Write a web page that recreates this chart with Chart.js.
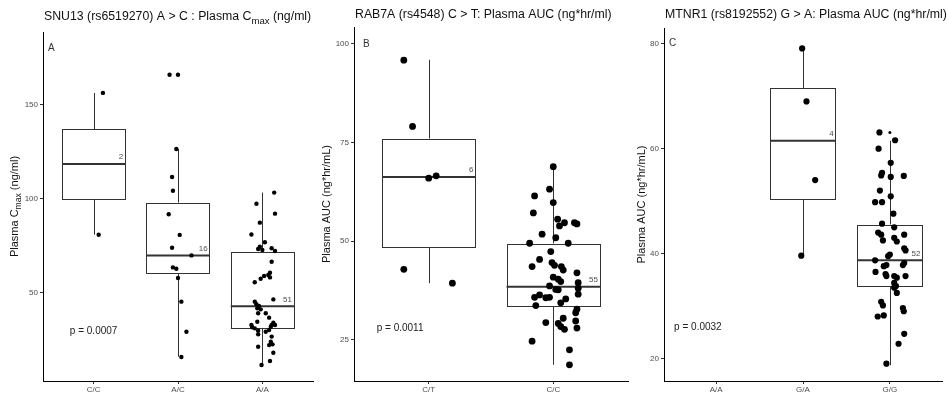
<!DOCTYPE html>
<html>
<head>
<meta charset="utf-8">
<script src="https://cdn.jsdelivr.net/npm/chart.js@4.4.0/dist/chart.umd.min.js"></script>
<style>
  html, body { margin: 0; padding: 0; background: #fff; }
  #wrap { position: relative; width: 949px; height: 393px; }
  .panel { position: absolute; top: 0; height: 393px; }
  canvas { display: block; }
</style>
</head>
<body>
<div id="wrap">
  <div class="panel" style="left:0;width:316px"><canvas id="snuChart" width="316" height="393"></canvas></div>
  <div class="panel" style="left:316px;width:316px"><canvas id="rabChart" width="316" height="393"></canvas></div>
  <div class="panel" style="left:632px;width:317px"><canvas id="mtnChart" width="317" height="393"></canvas></div>
</div>
<script>
// ---- Panel A: SNU13 (rs6519270), plasma Cmax ----
const snuGroups = ['C/C', 'A/C', 'A/A'];
const snuN = [2, 16, 51];
const snuLow = [81, 16.1, 11.7];
const snuQ1 = [100, 60.6, 31.5];
const snuMedian = [118.6, 70, 42.9];
const snuQ3 = [137.2, 98, 72];
const snuHigh = [156.4, 126.6, 103.4];
const snuTicks = [50, 100, 150];
// subjects: jittered x (group index) and value
const snuCCx = [1.11, 1.06];
const snuCCy = [156.4, 81.0];
const snuACx = [1.90, 2.00, 1.98, 1.93, 1.94, 1.89, 2.02, 1.93, 2.16, 1.94, 1.98, 2.00, 2.04, 2.10, 2.04];
const snuACy = [166.1, 166.1, 126.6, 111.7, 104.4, 91.9, 80.9, 74.1, 70.0, 63.6, 62.9, 58.0, 45.4, 29.4, 16.0];
const snuAAx = [3.14, 2.93, 3.15, 2.97, 2.87, 3.03, 2.97, 2.95, 3.00, 3.11, 3.15, 3.11, 3.09, 3.07, 3.02, 3.09,
  2.98, 2.91, 3.13, 2.91, 2.93, 2.96, 2.94, 2.98, 2.95, 3.04, 3.08, 2.94, 3.13, 3.11, 3.15, 2.87, 2.88, 2.91,
  3.10, 3.08, 3.04, 2.95, 2.95, 3.11, 3.10, 3.08, 3.12, 2.95, 3.13, 3.09, 2.99];
const snuAAy = [103.4, 97.5, 92.2, 87.4, 81.1, 77.0, 74.6, 73.4, 72.9, 73.8, 72.3, 66.6, 60.8, 59.6, 59.0, 58.3,
  57.6, 55.7, 46.6, 45.4, 44.0, 43.1, 41.9, 41.3, 39.2, 39.2, 36.9, 34.7, 34.2, 33.0, 33.0, 33.0, 31.8, 31.2,
  32.1, 30.3, 29.4, 29.9, 28.0, 26.8, 24.1, 22.3, 22.7, 21.4, 18.2, 13.8, 11.7];

// ---- Panel B: RAB7A (rs4548), plasma AUC ----
const rabGroups = ['C/T', 'C/C'];
const rabN = [6, 55];
const rabLow = [39.4, 18.7];
const rabQ1 = [48.6, 33.6];
const rabMedian = [66.3, 38.5];
const rabQ3 = [76, 49.4];
const rabHigh = [96, 68.8];
const rabTicks = [25, 50, 75, 100];
const rabCTx = [0.80, 0.87, 1.00, 1.06, 0.80, 1.19];
const rabCTy = [95.9, 79.1, 66.0, 66.6, 42.9, 39.4];
const rabCCx = [2.00, 1.97, 1.85, 2.00, 1.84, 2.035, 2.09, 2.05, 2.17, 2.19, 1.91, 2.02, 1.81, 2.12, 1.98,
  1.89, 1.99, 2.01, 1.83, 2.065, 2.08, 2.19, 2.00, 2.04, 2.06, 2.20, 1.97, 2.02, 2.04, 2.20, 2.20, 1.85, 1.89,
  1.94, 1.97, 2.10, 2.06, 1.86, 2.19, 2.18, 2.08, 1.94, 2.18, 2.04, 2.06, 2.09, 2.19, 1.83, 2.13, 2.13];
const rabCCy = [68.9, 63.2, 61.5, 59.8, 57.2, 55.6, 54.7, 53.9, 54.7, 54.4, 51.8, 50.9, 49.5, 49.5, 47.4,
  45.4, 44.6, 43.9, 43.6, 43.6, 42.7, 42.0, 40.9, 40.4, 39.8, 39.5, 38.7, 37.8, 37.7, 38.1, 36.6, 35.8, 36.4,
  35.7, 35.8, 35.4, 34.4, 33.7, 32.8, 31.9, 30.5, 29.4, 29.8, 29.2, 28.4, 27.7, 28.0, 24.7, 22.5, 18.7];

// ---- Panel C: MTNR1 (rs8192552), plasma AUC ----
const mtnGroups = ['A/A', 'G/A', 'G/G'];
const mtnN = [null, 4, 52];
const mtnLow = [null, 39.6, 18.7];
const mtnQ1 = [null, 50.4, 33.8];
const mtnMedian = [null, 61.5, 38.7];
const mtnQ3 = [null, 71.5, 45.5];
const mtnHigh = [null, 79.1, 61.5];
const mtnTicks = [20, 40, 60, 80];
const mtnGAx = [1.99, 2.04, 2.14, 1.98];
const mtnGAy = [79.1, 69.0, 54.0, 39.6];
const mtnGGx = [2.88, 3.06, 2.87, 3.01, 2.91, 2.90, 3.01, 3.16, 2.885, 3.01, 2.83, 2.91, 3.04, 2.91, 3.05,
  2.865, 2.90, 3.165, 2.92, 3.05, 3.08, 3.165, 3.18, 3.00, 2.98, 2.83, 2.96, 2.93, 3.165, 3.15, 2.835, 2.95,
  2.96, 3.05, 3.08, 3.18, 3.05, 3.07, 3.05, 3.08, 2.90, 2.92, 3.15, 3.16, 2.86, 2.93, 3.165, 3.10, 2.96];
const mtnGGy = [63.1, 61.6, 60.0, 57.3, 55.4, 54.9, 54.6, 54.8, 52.0, 50.9, 49.8, 49.8, 47.6, 45.7, 45.0,
  44.0, 43.6, 43.6, 42.5, 43.0, 42.3, 41.0, 40.6, 39.8, 39.5, 38.7, 37.8, 37.6, 38.2, 37.8, 36.5, 36.1,
  35.7, 35.7, 35.4, 35.7, 34.4, 33.8, 33.5, 32.5, 30.8, 30.1, 29.6, 29.0, 28.0, 28.2, 24.7, 22.8, 19.0];
const mtnOutlierX = [3];
const mtnOutlierY = [63.1];

const FONT = "'Liberation Sans', Arial, sans-serif";

function toPoints(xs, ys) {
  return xs.map((x, i) => ({ x: x, y: ys[i] }));
}

// draw text made of parts, a part with sub=true is drawn as a subscript
function richText(ctx, parts, x, y, size, align) {
  const subSize = size * 0.78;
  const widths = parts.map(p => {
    ctx.font = `${p.sub ? subSize : size}px ${FONT}`;
    return ctx.measureText(p.text).width;
  });
  const total = widths.reduce((a, b) => a + b, 0);
  let cx = align === 'center' ? x - total / 2 : x;
  ctx.textAlign = 'left';
  parts.forEach((p, i) => {
    ctx.font = `${p.sub ? subSize : size}px ${FONT}`;
    ctx.fillText(p.text, cx, p.sub ? y + size * 0.32 : y);
    cx += widths[i];
  });
}

// Box plot: boxes, whiskers, medians and n labels, placed with the chart scales
const boxPlot = {
  id: 'boxPlot',
  beforeDatasetsDraw(chart, args, o) {
    const { ctx, scales: { x, y } } = chart;
    ctx.save();
    ctx.strokeStyle = '#333';
    o.q1.forEach((q1, i) => {
      if (q1 == null) return;
      const g = i + 1;
      const left = x.getPixelForValue(g - o.width / 2);
      const right = x.getPixelForValue(g + o.width / 2);
      const mid = Math.round(x.getPixelForValue(g)) + 0.5;
      const top = y.getPixelForValue(o.q3[i]);
      const bottom = y.getPixelForValue(q1);
      ctx.lineWidth = 1;
      ctx.beginPath();
      ctx.moveTo(mid, y.getPixelForValue(o.high[i]));
      ctx.lineTo(mid, top);
      ctx.moveTo(mid, bottom);
      ctx.lineTo(mid, y.getPixelForValue(o.low[i]));
      ctx.stroke();
      ctx.fillStyle = '#fff';
      ctx.fillRect(left, top, right - left, bottom - top);
      ctx.strokeRect(Math.round(left) + 0.5, Math.round(top) + 0.5, Math.round(right - left), Math.round(bottom - top));
      ctx.lineWidth = 2;
      ctx.beginPath();
      const m = y.getPixelForValue(o.median[i]);
      ctx.moveTo(left, m);
      ctx.lineTo(right, m);
      ctx.stroke();
    });
    ctx.restore();
  },
  afterDatasetsDraw(chart, args, o) {
    const { ctx, scales: { x, y } } = chart;
    ctx.save();
    ctx.fillStyle = '#4d4d4d';
    ctx.font = `8px ${FONT}`;
    ctx.textAlign = 'right';
    ctx.textBaseline = 'middle';
    o.n.forEach((n, i) => {
      if (n == null) return;
      const right = x.getPixelForValue(i + 1 + o.width / 2);
      ctx.fillText(String(n), right - 2, y.getPixelForValue(o.median[i]) - 7);
    });
    ctx.restore();
  }
};

// Titles, panel letter and p value
const panelText = {
  id: 'panelText',
  afterDraw(chart, args, o) {
    const { ctx, chartArea, scales: { x, y } } = chart;
    ctx.save();
    ctx.textBaseline = 'middle';
    ctx.fillStyle = '#111';
    richText(ctx, o.title, chartArea.left + 1, o.titleY, 12.3, 'left');

    ctx.save();
    ctx.translate(o.yTitleX, (chartArea.top + chartArea.bottom) / 2);
    ctx.rotate(-Math.PI / 2);
    richText(ctx, o.yTitle, 0, 0, 11, 'center');
    ctx.restore();

    ctx.fillStyle = '#333';
    ctx.font = `10px ${FONT}`;
    ctx.textAlign = 'center';
    ctx.fillText(o.letter, x.getPixelForValue(o.letterAt[0]), y.getPixelForValue(o.letterAt[1]));

    ctx.fillStyle = '#222';
    ctx.fillText(o.pText, x.getPixelForValue(o.pAt[0]), y.getPixelForValue(o.pAt[1]));
    ctx.restore();
  }
};

function xAxis(labels, max) {
  return {
    type: 'linear',
    min: 0.4,
    max: max,
    afterBuildTicks: s => { s.ticks = labels.map((_, i) => ({ value: i + 1 })); },
    afterFit: s => { s.height = 12; },
    ticks: {
      callback: v => labels[v - 1],
      color: '#4d4d4d',
      font: { family: FONT, size: 8 },
      padding: 1,
      autoSkip: false,
      maxRotation: 0
    },
    grid: { drawOnChartArea: false, tickLength: 3, color: '#333' },
    border: { color: '#000', width: 1 }
  };
}

function yAxis(ticks, min, max, width) {
  return {
    type: 'linear',
    min: min,
    max: max,
    afterBuildTicks: s => { s.ticks = ticks.map(v => ({ value: v })); },
    afterFit: s => { s.width = width; },
    ticks: {
      color: '#4d4d4d',
      font: { family: FONT, size: 8 },
      padding: 2
    },
    grid: { drawOnChartArea: false, tickLength: 3, color: '#333' },
    border: { color: '#000', width: 1 }
  };
}

function makeChart(id, cfg) {
  const datasets = cfg.sets.map(s => ({
    data: s.data,
    backgroundColor: '#000',
    borderWidth: 0,
    pointRadius: s.radius,
    pointHoverRadius: s.radius
  }));
  return new Chart(document.getElementById(id), {
    type: 'scatter',
    data: { datasets: datasets },
    plugins: [boxPlot, panelText],
    options: {
      responsive: false,
      animation: false,
      devicePixelRatio: 1,
      layout: { padding: cfg.padding },
      scales: { x: cfg.x, y: cfg.y },
      plugins: {
        legend: { display: false },
        tooltip: { enabled: false },
        boxPlot: cfg.box,
        panelText: cfg.text
      }
    }
  });
}

makeChart('snuChart', {
  padding: { left: 0, right: 3, top: 32, bottom: 0 },
  x: xAxis(snuGroups, 3.6),
  y: yAxis(snuTicks, 3.2, 188.8, 43),
  sets: [
    { data: toPoints(snuCCx, snuCCy), radius: 2.2 },
    { data: toPoints(snuACx, snuACy), radius: 2.2 },
    { data: toPoints(snuAAx, snuAAy), radius: 2.2 }
  ],
  box: { width: 0.75, low: snuLow, q1: snuQ1, median: snuMedian, q3: snuQ3, high: snuHigh, n: snuN },
  text: {
    title: [{ text: 'SNU13 (rs6519270) A > C : Plasma C' }, { text: 'max', sub: true }, { text: ' (ng/ml)' }],
    titleY: 17,
    yTitle: [{ text: 'Plasma C' }, { text: 'max', sub: true }, { text: ' (ng/ml)' }],
    yTitleX: 15,
    letter: 'A', letterAt: [0.5, 180],
    pText: 'p = 0.0007', pAt: [1, 29.4]
  }
});

makeChart('rabChart', {
  padding: { left: 0, right: 4, top: 27, bottom: 0 },
  x: xAxis(rabGroups, 2.6),
  y: yAxis(rabTicks, 14.6, 104.3, 38),
  sets: [
    { data: toPoints(rabCTx, rabCTy), radius: 3.4 },
    { data: toPoints(rabCCx, rabCCy), radius: 3.4 }
  ],
  box: { width: 0.75, low: rabLow, q1: rabQ1, median: rabMedian, q3: rabQ3, high: rabHigh, n: rabN },
  text: {
    title: [{ text: 'RAB7A (rs4548) C > T: Plasma AUC (ng*hr/ml)' }],
    titleY: 15,
    yTitle: [{ text: 'Plasma AUC (ng*hr/mL)' }],
    yTitleX: 11,
    letter: 'B', letterAt: [0.5, 100],
    pText: 'p = 0.0011', pAt: [0.77, 28]
  }
});

makeChart('mtnChart', {
  padding: { left: 0, right: 7, top: 28, bottom: 0 },
  x: xAxis(mtnGroups, 3.6),
  y: yAxis(mtnTicks, 15.7, 83, 32),
  sets: [
    { data: toPoints(mtnGAx, mtnGAy), radius: 3.1 },
    { data: toPoints(mtnGGx, mtnGGy), radius: 3.1 },
    { data: toPoints(mtnOutlierX, mtnOutlierY), radius: 1.5 }
  ],
  box: { width: 0.75, low: mtnLow, q1: mtnQ1, median: mtnMedian, q3: mtnQ3, high: mtnHigh, n: mtnN },
  text: {
    title: [{ text: 'MTNR1 (rs8192552) G > A: Plasma AUC (ng*hr/ml)' }],
    titleY: 15,
    yTitle: [{ text: 'Plasma AUC (ng*hr/mL)' }],
    yTitleX: 10,
    letter: 'C', letterAt: [0.5, 80],
    pText: 'p = 0.0032', pAt: [0.79, 25.9]
  }
});
</script>
</body>
</html>
